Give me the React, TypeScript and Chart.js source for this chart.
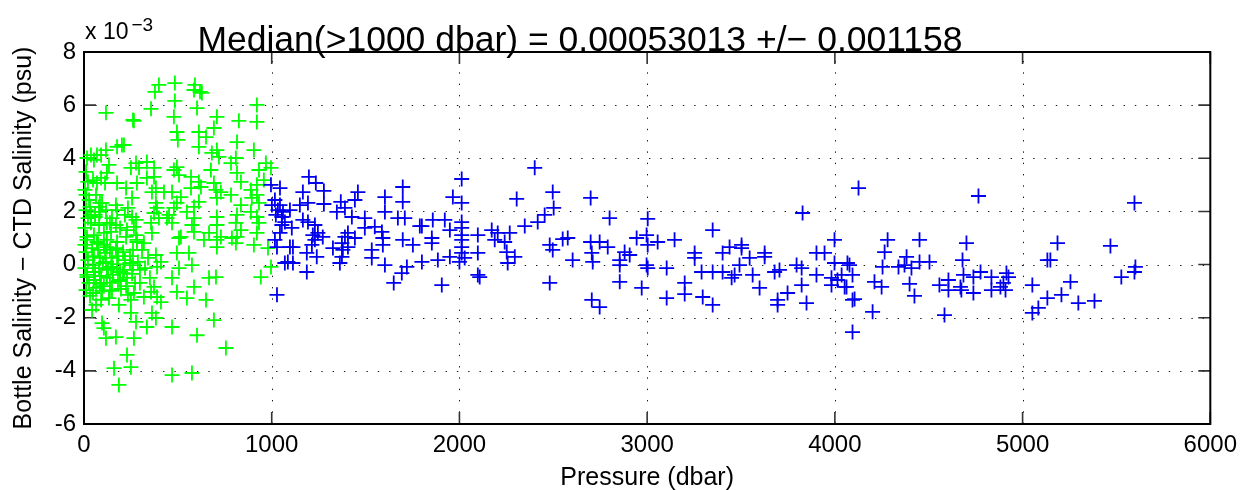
import React, { useEffect, useRef } from 'react';
import { Chart, registerables } from 'chart.js';

Chart.register(...registerables);

const FONT = '"Liberation Sans", Arial, Helvetica, sans-serif';

const xTickValues = [0, 1000, 2000, 3000, 4000, 5000, 6000];
const yTickValues = [-6, -4, -2, 0, 2, 4, 6, 8];
const titleText = 'Median(>1000 dbar) = 0.00053013 +/\u2212 0.001158';
const xLabel = 'Pressure (dbar)';
const yLabel = 'Bottle Salinity \u2212 CTD Salinity (psu)';
const exponentBase = 'x 10';
const exponentPower = '\u22123';

// Shallow samples (< 1000 dbar): [pressure dbar, salinity difference x 1e-3]
const shallowSamples: [number, number][] = [
  [399, 6.76], [484, 6.83], [378, 6.5], [586, 6.57], [618, 6.5], [591, 6.76], [628, 6.46], [484, 6.16], [602, 5.89], [921, 6.01],
  [117, 5.71], [357, 5.86], [479, 5.56], [266, 5.41], [708, 5.56], [825, 5.41], [921, 5.37], [692, 5.14], [495, 4.99], [500, 4.69],
  [612, 4.99], [650, 4.8], [612, 4.43], [815, 4.61], [708, 4.31], [719, 4.05], [681, 4.2], [905, 4.31], [213, 4.5], [176, 4.43],
  [117, 4.31], [37, 4.12], [91, 4.12], [53, 3.94], [16, 4.01], [809, 4.01], [783, 3.82], [969, 3.82], [932, 3.56], [996, 3.64],
  [676, 3.56], [815, 3.45], [836, 3.11], [495, 3.67], [479, 3.56], [506, 3.37], [277, 3.82], [293, 3.64], [250, 3.64], [335, 3.86],
  [373, 3.64], [133, 3.75], [122, 3.45], [91, 3.26], [69, 3.07], [335, 3.26], [373, 3.3], [383, 2.88], [362, 2.73], [282, 3.07],
  [224, 2.88], [176, 3.07], [570, 3.3], [612, 3.11], [623, 2.92], [570, 2.88], [692, 3.07], [703, 2.81], [729, 2.73], [708, 2.51],
  [783, 2.62], [889, 2.81], [921, 3.0], [958, 3.18], [921, 2.62], [894, 2.51], [932, 2.32], [889, 1.98], [836, 2.24], [815, 1.87],
  [921, 1.79], [932, 1.57], [708, 1.49], [809, 1.57], [836, 1.3], [815, 1.04], [788, 1.0], [708, 0.93], [586, 2.17], [612, 2.36],
  [548, 1.98], [586, 1.75], [575, 1.49], [495, 2.32], [479, 2.13], [453, 1.87], [442, 1.75], [469, 1.57], [506, 1.0], [516, 2.54],
  [469, 2.73], [426, 2.73], [383, 2.32], [389, 2.13], [373, 1.94], [399, 1.75], [357, 1.57], [362, 1.19], [256, 2.51], [256, 1.79],
  [277, 1.68], [266, 1.42], [170, 2.24], [96, 2.32], [64, 2.62], [80, 2.17], [117, 2.05], [37, 1.87], [37, 1.57], [80, 1.49],
  [122, 1.57], [170, 1.49], [144, 1.23], [106, 1.19], [53, 1.11], [16, 0.93], [69, 0.85], [122, 0.93], [176, 0.85], [224, 1.04],
  [282, 0.85], [319, 0.81], [708, 1.79], [666, 1.19], [639, 0.93],
  [277, 1.11], [516, 1.04], [586, 1.23], [729, 1.04], [708, 0.66], [809, 0.81], [921, 1.19], [905, 0.74], [495, 0.44], [559, 0.44],
  [383, 0.36], [410, 0.1], [389, -0.09], [575, -0.02], [506, -0.13], [469, -0.5], [666, -0.5], [703, -0.47], [942, -0.47], [996, -0.09],
  [586, -0.84], [495, -1.03], [373, -0.84], [357, -1.03], [389, -1.22], [410, -1.41], [548, -1.26], [650, -1.33], [319, -1.22], [266, -1.07],
  [250, -1.33], [186, -1.52], [133, -1.26], [91, -1.33], [64, -1.52], [43, -1.71], [250, -1.82], [362, -1.82], [383, -2.01], [277, -2.16],
  [335, -2.35], [469, -2.35], [692, -2.09], [602, -2.66], [96, -2.2], [106, -2.39], [117, -2.77], [170, -2.73], [266, -2.77], [756, -3.14],
  [229, -3.4], [250, -3.86], [160, -3.9], [469, -4.16], [575, -4.08], [186, -4.53],
  [261, 5.44], [69, 4.12], [202, 4.5], [980, 0.62],
  [5, 0.74], [11, 0.47], [21, 0.17], [5, -0.13], [16, -0.39], [27, -0.69], [11, -0.96], [32, -1.18], [5, 1.38], [21, 1.75],
  [11, 2.05], [27, 2.43], [5, 2.81], [21, 3.11], [11, 3.49],
  [43, 0.62], [53, 0.32], [48, -0.02], [59, -0.28], [53, -0.58], [64, -0.88], [48, -1.07],
  [75, 0.55], [85, 0.25], [80, -0.13], [91, -0.43], [85, -0.73], [96, -0.99],
  [106, 0.74], [112, 0.44], [117, 0.1], [128, -0.2], [122, -0.5], [106, -0.81],
  [138, 0.55], [149, 0.25], [144, -0.09], [154, -0.39], [138, -0.69], [149, -0.99],
  [170, 0.62], [181, 0.32], [176, 0.02], [192, -0.28], [181, -0.62], [197, -0.92],
  [208, 0.47], [218, 0.17], [213, -0.2], [229, -0.5], [224, -0.81], [234, -1.14],
  [245, 0.32], [261, -0.02], [256, -0.35], [272, -0.69], [287, 0.1], [298, -0.2], [309, 0.55], [298, -0.69], [325, -0.13], [341, 0.25], [351, -0.5],
  [59, 1.87], [85, 1.98], [149, 1.75], [192, 1.38], [218, 1.87], [234, 2.13],
  [32, 2.17], [85, 2.32], [59, 1.79], [138, 1.57], [16, 1.04], [75, 0.78], [122, 0.66], [176, 0.55], [48, 0.29], [101, 0.06],
  [154, -0.13], [208, -0.32], [16, -0.47], [85, -0.69], [138, -0.96], [192, -0.58], [245, 0.06], [261, 0.55], [282, 0.93], [229, 1.3],
  [176, 2.05], [112, 3.07], [48, 3.18], [11, 2.62],
];

// Deep samples (>= 1000 dbar): [pressure dbar, salinity difference x 1e-3]
const deepSamples: [number, number][] = [
  [2401, 3.64], [2012, 3.22], [1198, 3.3], [1235, 3.07], [1278, 2.77], [1044, 2.88], [1166, 2.73], [1459, 2.73], [1603, 2.54], [1698, 2.92],
  [1698, 2.36], [1603, 1.98], [1965, 2.54], [2012, 2.32], [2305, 2.47], [2497, 2.73], [2502, 2.13], [2454, 1.87], [2417, 1.6], [2348, 1.45],
  [1368, 2.36], [1347, 1.98], [1390, 2.13], [1278, 2.28], [1193, 2.32], [1443, 2.43], [1427, 1.79], [1496, 1.75], [1496, 1.38], [1672, 1.75],
  [1709, 1.75], [1800, 1.45], [1858, 1.68], [1922, 1.68], [1949, 1.3], [2012, 1.6], [2012, 1.38], [2012, 1.11], [2012, 0.93], [2012, 0.66],
  [2012, 0.44], [2028, 0.25], [2000, 0.1], [2098, 1.11], [2172, 1.3], [2204, 1.19], [2268, 1.19], [2241, 0.85], [2188, 0.93], [2098, 0.44],
  [2252, 0.47], [2295, 0.29], [2257, 0.06], [2481, 0.74], [2497, 0.55], [2550, 0.96], [2098, -0.39], [2108, -0.47], [2481, -0.69], [1906, -0.77],
  [1650, -0.69], [1693, -0.32], [1720, -0.09], [1800, 0.1], [1885, 0.17], [1949, 0.29], [1603, -0.02], [1533, 0.25], [1533, 0.55], [1592, 0.74],
  [1592, 1.0], [1698, 0.93], [1752, 0.74], [1853, 1.0], [1853, 0.81], [1789, 1.45], [1587, 1.23], [1549, 1.42], [1406, 1.19], [1443, 1.0],
  [1390, 1.04], [1374, 0.81], [1406, 0.66], [1326, 0.62], [1379, 0.55], [1374, 0.29], [1363, 0.06], [1187, 0.44], [1240, 0.29], [1187, -0.28],
  [1246, 1.19], [1219, 1.11], [1230, 0.93], [1214, 0.74], [1272, 1.04], [1193, 1.6], [1166, 1.68], [1230, 1.49], [1113, 0.66], [1097, 0.66],
  [1028, 0.66], [1044, 1.19], [1017, 0.93], [1070, 0.06], [1086, 0.1], [1028, -1.14], [1107, 1.38], [1070, 1.6], [1001, 2.24], [1033, 2.05],
  [1054, 1.79], [1017, 2.43], [1044, 2.24], [1060, 1.98], [1022, 1.87], [1054, 1.49], [1097, 2.05], [1150, 2.24], [996, 3.0], [1113, 0.06],
  [2699, 2.51], [2800, 1.75], [3003, 1.72], [2577, 1.0], [2699, 0.85], [2747, 0.85], [2790, 0.66], [2705, 0.44], [2710, 0.1], [2603, 0.17],
  [2880, 0.47], [2907, 0.36], [2854, 0.17], [2854, -0.02], [2854, -0.65], [2944, 1.0], [2997, 1.11], [3003, 0.74], [3056, 0.85], [3146, 0.93],
  [2997, -0.02], [3003, -0.13], [3104, -0.13], [2971, -0.88], [3200, -0.69], [3200, -1.11], [3104, -1.26], [2705, -1.33], [2747, -1.6], [3349, 1.3],
  [3253, 0.44], [3253, 0.25], [3290, -0.28], [3349, -0.28], [3402, -0.28], [3450, -0.5], [3466, -0.39], [3503, 0.74], [3503, 0.62], [3439, 0.66],
  [3402, 0.44], [3492, -0.02], [3562, -0.39], [3599, -0.88], [3546, 0.25], [3626, 0.44], [3626, 0.29], [3679, -0.28], [3705, -0.2], [3296, -1.22],
  [3349, -1.52], [3748, -1.07], [3823, -0.77], [3695, -1.33], [3695, -1.52], [3849, -1.45], [3796, -0.02], [3823, -0.13], [3902, 0.44], [3945, 0.44],
  [3998, 0.93], [3998, 0.06], [3902, -0.39], [3982, -0.5], [4014, -0.58], [4036, -0.39], [3982, -0.77], [4052, -0.84], [4067, 0.06], [4094, -1.33],
  [4094, -2.54], [3828, 1.94],
  [4126, 2.88], [4765, 2.58], [5596, 2.32], [4281, 0.93], [4451, 0.93], [4265, 0.47], [4701, 0.81], [5186, 0.81], [5468, 0.7], [4382, 0.29],
  [4680, 0.17], [5132, 0.17], [5148, 0.17], [4451, 0.1], [4504, 0.1], [4078, -0.02], [4254, -0.09], [4339, -0.09], [4371, -0.02], [4408, -0.13],
  [5601, -0.09], [5596, -0.28], [4094, -0.39], [4776, -0.28], [4685, -0.39], [4738, -0.47], [4834, -0.47], [4914, -0.32], [4925, -0.47], [5526, -0.47],
  [4062, -0.84], [4211, -0.65], [4249, -0.84], [4398, -0.73], [4605, -0.58], [4557, -0.77], [4669, -0.84], [4605, -0.96], [4674, -0.96], [4834, -0.96],
  [4882, -0.84], [4909, -0.96], [4898, -0.69], [4738, -1.07], [5052, -0.77], [5255, -0.65], [4105, -1.3], [4424, -1.18], [5132, -1.26], [5207, -1.14],
  [5297, -1.45], [5383, -1.37], [4201, -1.78], [4584, -1.9], [5052, -1.82], [5084, -1.63],
];

const toPoints = (rows: [number, number][]) => rows.map(([x, y]) => ({ x, y }));

const matlabAxes = {
  id: 'matlabAxes',
  beforeDatasetsDraw(chart: any) {
    const { ctx, chartArea: a, scales } = chart;
    const xs = scales.x;
    const ys = scales.y;
    ctx.save();
    // dotted grid
    ctx.strokeStyle = '#1a1a1a';
    ctx.lineWidth = 1;
    ctx.setLineDash([1.4, 9.9]);
    xTickValues.forEach((v) => {
      const px = Math.round(xs.getPixelForValue(v)) + 0.5;
      if (px > a.left + 3 && px < a.right - 3) {
        ctx.beginPath();
        ctx.moveTo(px, a.bottom);
        ctx.lineTo(px, a.top);
        ctx.stroke();
      }
    });
    yTickValues.forEach((v) => {
      const py = Math.round(ys.getPixelForValue(v)) + 0.5;
      if (py > a.top + 3 && py < a.bottom - 3) {
        ctx.beginPath();
        ctx.moveTo(a.left, py);
        ctx.lineTo(a.right, py);
        ctx.stroke();
      }
    });
    ctx.setLineDash([]);
    // inward ticks
    const tl = 12;
    ctx.strokeStyle = '#333333';
    ctx.lineWidth = 1.6;
    xTickValues.forEach((v) => {
      const px = xs.getPixelForValue(v);
      ctx.beginPath();
      ctx.moveTo(px, a.bottom);
      ctx.lineTo(px, a.bottom - tl);
      ctx.moveTo(px, a.top);
      ctx.lineTo(px, a.top + tl);
      ctx.stroke();
    });
    yTickValues.forEach((v) => {
      const py = ys.getPixelForValue(v);
      ctx.beginPath();
      ctx.moveTo(a.left, py);
      ctx.lineTo(a.left + tl, py);
      ctx.moveTo(a.right, py);
      ctx.lineTo(a.right - tl, py);
      ctx.stroke();
    });
    // box
    ctx.strokeStyle = '#000000';
    ctx.lineWidth = 2;
    ctx.strokeRect(a.left, a.top, a.right - a.left, a.bottom - a.top);
    ctx.restore();
  },
  afterDraw(chart: any) {
    const { ctx, chartArea: a } = chart;
    ctx.save();
    ctx.fillStyle = '#000000';
    // title
    ctx.font = `35.5px ${FONT}`;
    ctx.textAlign = 'center';
    ctx.textBaseline = 'alphabetic';
    ctx.fillText(titleText, 580, 51);
    // exponent
    ctx.textAlign = 'left';
    ctx.font = `23px ${FONT}`;
    ctx.fillText(exponentBase, 85, 39);
    const w = ctx.measureText(exponentBase).width;
    ctx.font = `19px ${FONT}`;
    ctx.fillText(exponentPower, 85 + w + 3, 31);
    // x label
    ctx.font = `25px ${FONT}`;
    ctx.textAlign = 'center';
    ctx.fillText(xLabel, (a.left + a.right) / 2, 485);
    // y label
    ctx.translate(31, (a.top + a.bottom) / 2);
    ctx.rotate(-Math.PI / 2);
    ctx.fillText(yLabel, 0, 0);
    ctx.restore();
  },
};

export default function App() {
  const canvasRef = useRef<HTMLCanvasElement | null>(null);

  useEffect(() => {
    const canvas = canvasRef.current;
    if (!canvas) return;
    const tickFont = { family: FONT, size: 24 };
    const chart = new Chart(canvas, {
      type: 'scatter',
      data: {
        datasets: [
          {
            label: 'deep',
            data: toPoints(deepSamples),
            pointStyle: 'cross',
            pointRadius: 7.5,
            pointBorderWidth: 1.8,
            pointBorderColor: '#0000ee',
            pointBackgroundColor: '#0000ee',
            clip: false,
          } as any,
          {
            label: 'shallow',
            data: toPoints(shallowSamples),
            pointStyle: 'cross',
            pointRadius: 7.5,
            pointBorderWidth: 1.8,
            pointBorderColor: '#00ff00',
            pointBackgroundColor: '#00ff00',
            clip: false,
          } as any,
        ],
      },
      options: {
        animation: false,
        responsive: false,
        devicePixelRatio: 1,
        events: [],
        layout: { padding: { top: 52, right: 33, left: 0, bottom: 0 } },
        plugins: {
          legend: { display: false },
          tooltip: { enabled: false },
          title: { display: false },
        },
        scales: {
          x: {
            type: 'linear',
            min: 0,
            max: 6000,
            afterBuildTicks: (s: any) => {
              s.ticks = xTickValues.map((value) => ({ value }));
            },
            ticks: {
              font: tickFont,
              color: '#000000',
              padding: 7,
              maxRotation: 0,
              callback: (v: any) => String(v),
            },
            grid: { display: false, drawTicks: false },
            border: { display: false },
            afterFit: (s: any) => {
              s.height = 66;
            },
          },
          y: {
            type: 'linear',
            min: -6,
            max: 8,
            afterBuildTicks: (s: any) => {
              s.ticks = yTickValues.map((value) => ({ value }));
            },
            ticks: {
              font: tickFont,
              color: '#000000',
              padding: 8,
              callback: (v: any) => String(v),
            },
            grid: { display: false, drawTicks: false },
            border: { display: false },
            afterFit: (s: any) => {
              s.width = 84;
            },
          },
        },
      } as any,
      plugins: [matlabAxes],
    });
    return () => chart.destroy();
  }, []);

  return (
    <div style={{ position: 'absolute', left: 0, top: 0, width: 1244, height: 490, background: '#ffffff' }}>
      <canvas ref={canvasRef} width={1244} height={490} style={{ width: 1244, height: 490, display: 'block' }} />
    </div>
  );
}
